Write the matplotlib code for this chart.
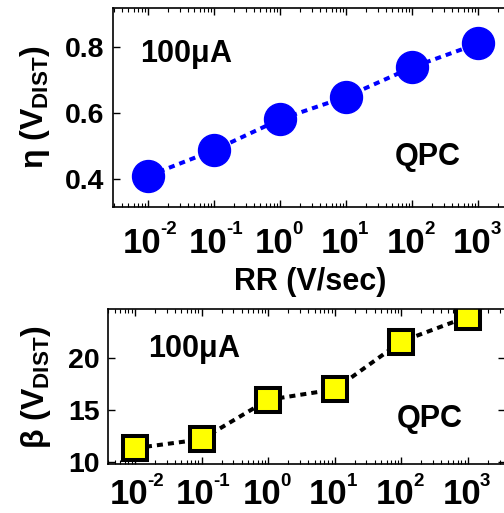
import matplotlib
matplotlib.use('Agg')
import matplotlib.pyplot as plt
from matplotlib.ticker import LogLocator, NullFormatter

plt.rcParams['font.family'] = 'Liberation Sans'
plt.rcParams['font.weight'] = 'bold'
plt.rcParams['mathtext.fontset'] = 'custom'
plt.rcParams['mathtext.rm'] = 'Liberation Sans:bold'
plt.rcParams['mathtext.bf'] = 'Liberation Sans:bold'
plt.rcParams['mathtext.it'] = 'Liberation Sans:bold'

# data
rr = [1e-2, 1e-1, 1e0, 1e1, 1e2, 1e3]
eta = [0.41, 0.488, 0.581, 0.649, 0.738, 0.81]
beta = [11.35, 12.2, 16.0, 17.0, 21.6, 24.0]
tick_base = '10'
tick_exps = ['-2', '-1', '0', '1', '2', '3']

FS = 22
fig = plt.figure(figsize=(5.04, 5.13), dpi=100)
W, H = 504, 513

def px_axes(left, top, right, bottom):
    return fig.add_axes([left / W, 1 - bottom / H, (right - left) / W, (bottom - top) / H])

def style(ax, base_dy, exp_dy):
    ax.set_xscale('log')
    ax.tick_params(which='both', direction='in', top=True, right=True, labelsize=20.5)
    ax.tick_params(which='major', length=5, width=1, pad=6)
    ax.tick_params(which='minor', length=3, width=0.8)
    ax.set_xticks(rr)
    ax.set_xticklabels([])
    ax.xaxis.set_minor_locator(LogLocator(base=10, subs=range(2, 10), numticks=20))
    ax.xaxis.set_minor_formatter(NullFormatter())
    for s in ax.spines.values():
        s.set_linewidth(1.2)
    # MATLAB-style exponent labels: big base, small raised exponent
    for x, e in zip(rr, tick_exps):
        ax.annotate(tick_base, xy=(x, 0), xycoords=('data', 'axes fraction'),
                    xytext=(13, base_dy), textcoords='offset pixels',
                    ha='right', va='baseline', fontsize=25, fontweight='bold',
                    annotation_clip=False)
        ax.annotate(e, xy=(x, 0), xycoords=('data', 'axes fraction'),
                    xytext=(12, exp_dy), textcoords='offset pixels',
                    ha='left', va='baseline', fontsize=13.5, fontweight='bold',
                    annotation_clip=False)

# top panel
ax1 = px_axes(112.7, 8.3, 514.6, 206.7)
ax1.plot(rr, eta, color='#0000ff', lw=2.9, dashes=(1.5, 1.25),
         marker='o', markersize=23, markerfacecolor='#0000ff', markeredgecolor='#0000ff')
style(ax1, -46, -27)
ax1.set_xlim(10 ** -2.54, 10 ** 3.55)
ax1.set_ylim(0.317, 0.916)
ax1.set_yticks([0.4, 0.6, 0.8])
ax1.set_yticklabels(['0.4', '0.6', '0.8'])
ax1.text(0.491, -(290 - 206.7) / 198.4, 'RR (V/sec)', transform=ax1.transAxes,
         fontsize=FS, fontweight='bold', ha='center', va='baseline')
ax1.set_ylabel(r'$\eta$ (V$_{\mathbf{DIST}}$)', fontsize=FS + 1, fontweight='bold')
ax1.yaxis.set_label_coords(-0.152, 0.5)
ax1.text(10 ** -2.13, 0.778, r'100$\mu$A', fontsize=FS, fontweight='bold', va='center')
ax1.text(10 ** 1.74, 0.468, 'QPC', fontsize=FS, fontweight='bold', va='center')

# bottom panel
ax2 = px_axes(108.3, 309.3, 504.5, 464.3)
ax2.plot(rr, beta, color='black', lw=2.9, dashes=(1.5, 1.25),
         marker='s', markersize=17.3, markerfacecolor='#ffff00', markeredgecolor='black',
         markeredgewidth=2.9)
style(ax2, -40, -22)
ax2.set_xlim(10 ** -2.4, 10 ** 3.55)
ax2.set_ylim(9.8, 24.7)
ax2.set_yticks([10, 15, 20])
ax2.set_ylabel(r'$\beta$ (V$_{\mathbf{DIST}}$)', fontsize=FS + 1, fontweight='bold')
ax2.yaxis.set_label_coords(-0.14, 0.5)
ax2.text(10 ** -1.8, 20.8, r'100$\mu$A', fontsize=FS, fontweight='bold', va='center')
ax2.text(10 ** 1.93, 14.18, 'QPC', fontsize=FS, fontweight='bold', va='center')

fig.savefig('out.png', dpi=100)
